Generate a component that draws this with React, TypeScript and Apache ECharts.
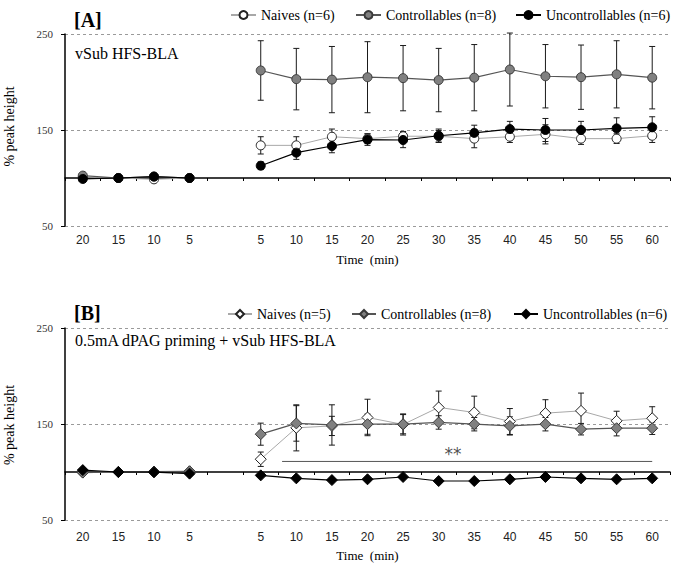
import React, { useEffect, useRef } from 'react';
import * as echarts from 'echarts';

// ---------- data ----------
const categories = ['20', '15', '10', '5', '', '5', '10', '15', '20', '25', '30', '35', '40', '45', '50', '55', '60'];
const yMin = 50;
const yMax = 250;
const yStep = 100;

// Panel A
const namesA = ['Naives (n=6)', 'Controllables (n=8)', 'Uncontrollables (n=6)'];
const naivesA = [101, 100, 98.6, 100, null, 134, 134, 143, 141, 143.5, 143.5, 141, 143, 145.5, 141, 141, 144];
const naivesAErr = [0, 0, 0, 0, null, 9, 9, 8, 5, 5, 6, 9.5, 6, 10, 6, 5, 7];
const ctrlA = [102.5, 100, 101.5, 100, null, 212, 203, 202.5, 205, 204, 202, 204.5, 213, 206, 205, 208, 204.5];
const ctrlAErr = [0, 0, 0, 0, null, 31, 32, 34.5, 37, 34, 33, 34.5, 38, 33, 33.5, 35, 32.5];
const uncA = [99, 100, 101.5, 100, null, 112.8, 126.4, 133.3, 140, 139.6, 144, 147, 151, 150, 150, 151.7, 152.8];
const uncAErr = [0, 0, 0, 0, null, 4, 7, 7, 6, 8, 7, 8, 8, 12, 9, 11, 11];

// Panel B
const namesB = ['Naives (n=5)', 'Controllables (n=8)', 'Uncontrollables (n=6)'];
const naivesB = [99.4, 100, 100, 100.7, null, 113.3, 146, 148, 156.8, 149.5, 167.3, 162, 152.6, 161.3, 163.7, 153.3, 156];
const naivesBErr = [0, 0, 0, 0, null, 7.5, 24, 10, 19, 11, 17, 17, 13.5, 14, 18.5, 10, 12];
const ctrlB = [99.4, 100, 100.5, 100.7, null, 139.4, 150.6, 149, 149.8, 149.8, 151.6, 149.8, 148, 149.8, 144.6, 145.6, 145.6];
const ctrlBErr = [0, 0, 0, 0, null, 11.5, 18.5, 21, 10.5, 10, 7, 7, 9.5, 7, 6, 8, 6.5];
const uncB = [102, 100, 99.8, 98.3, null, 96.5, 93.4, 91.6, 92.4, 94.8, 90.6, 90.6, 92.4, 94.8, 93.4, 92.4, 93.4];
const uncBErr = [0, 0, 0, 0, null, 0, 0, 0, 0, 0, 0, 0, 0, 0, 0, 0, 0];

// significance bar (panel B), x in category-index units
const sigFrom = 5.6;
const sigTo = 16;
const sigLevel = 111;
const sigLabelAt = 10.4;
const sigText = '**';

const baseline = 100;

// ---------- styles ----------
const SERIF = 'Liberation Serif';
const SANS = 'Liberation Sans';

const groupStyles = [
  { fill: '#ffffff', border: '#222222', line: '#a8a8a8', lineWidth: 1 },
  { fill: '#808080', border: '#3a3a3a', line: '#555555', lineWidth: 1.2 },
  { fill: '#000000', border: '#000000', line: '#000000', lineWidth: 1.2 },
];

type PanelCfg = {
  top: number;
  height: number;
  gridTop: number;
  letter: string;
  letterY: number;
  subtitle: string;
  subtitleY: number;
  legendY: number;
  legendLefts: number[];
  legendItemWidth: number;
  yNameY: number;
  labelMargin: number;
  nameGap: number;
  names: string[];
  values: (number | null)[][];
  errs: (number | null)[][];
  symbol: string;
  symbolSize: number;
  sig: boolean;
};

const GRID_H = 192;

const panels: PanelCfg[] = [
  {
    top: 0, height: 282, gridTop: 34,
    letter: '[A]', letterY: 19.5,
    subtitle: 'vSub HFS-BLA', subtitleY: 53,
    legendY: 15, legendLefts: [230, 355, 515], legendItemWidth: 25,
    yNameY: 126.5, labelMargin: 8, nameGap: 27,
    names: namesA, values: [naivesA, ctrlA, uncA], errs: [naivesAErr, ctrlAErr, uncAErr],
    symbol: 'circle', symbolSize: 9, sig: false,
  },
  {
    top: 282, height: 283, gridTop: 46,
    letter: '[B]', letterY: 30.5,
    subtitle: '0.5mA dPAG priming + vSub HFS-BLA', subtitleY: 58,
    legendY: 32, legendLefts: [227, 351, 513], legendItemWidth: 24,
    yNameY: 143, labelMargin: 10.5, nameGap: 28.5,
    names: namesB, values: [naivesB, ctrlB, uncB], errs: [naivesBErr, ctrlBErr, uncBErr],
    symbol: 'diamond', symbolSize: 11, sig: true,
  },
];

function errorSeries(values: (number | null)[], errs: (number | null)[]) {
  const data: number[][] = [];
  values.forEach((v, i) => {
    const e = errs[i];
    if (v != null && e) data.push([i, v - e, v + e]);
  });
  return {
    type: 'custom',
    xAxisIndex: 0,
    yAxisIndex: 0,
    silent: true,
    z: 1,
    data,
    encode: { x: 0, y: [1, 2] },
    renderItem: (_params: any, api: any) => {
      const x = api.value(0);
      const lo = api.coord([x, api.value(1)]);
      const hi = api.coord([x, api.value(2)]);
      const w = 3;
      const style = { stroke: '#1a1a1a', lineWidth: 1 };
      return {
        type: 'group',
        children: [
          { type: 'line', shape: { x1: lo[0], y1: lo[1], x2: hi[0], y2: hi[1] }, style },
          { type: 'line', shape: { x1: lo[0] - w, y1: lo[1], x2: lo[0] + w, y2: lo[1] }, style },
          { type: 'line', shape: { x1: hi[0] - w, y1: hi[1], x2: hi[0] + w, y2: hi[1] }, style },
        ],
      };
    },
  };
}

function buildOption(p: PanelCfg) {
  const axisOffset = -GRID_H * (baseline - yMin) / (yMax - yMin);
  const series: any[] = [];
  p.values.forEach((vals, k) => series.push(errorSeries(vals, p.errs[k])));
  p.values.forEach((vals, k) => {
    const s = groupStyles[k];
    series.push({
      name: p.names[k],
      type: 'line',
      xAxisIndex: 0,
      yAxisIndex: 0,
      data: vals,
      connectNulls: false,
      symbol: p.symbol,
      symbolSize: p.symbolSize,
      showAllSymbol: true,
      z: 3 + k,
      lineStyle: { color: s.line, width: s.lineWidth },
      itemStyle: { color: s.fill, borderColor: s.border, borderWidth: 1 },
      emphasis: { disabled: true },
    });
  });
  if (p.sig) {
    series.push({
      type: 'line',
      xAxisIndex: 2,
      yAxisIndex: 0,
      data: [[sigFrom, sigLevel], [sigTo, sigLevel]],
      symbol: 'none',
      silent: true,
      z: 2,
      lineStyle: { color: '#555555', width: 1 },
    });
    series.push({
      type: 'scatter',
      xAxisIndex: 2,
      yAxisIndex: 0,
      data: [[sigLabelAt, sigLevel]],
      symbolSize: 0,
      silent: true,
      label: {
        show: true,
        position: 'top',
        distance: -1,
        formatter: sigText,
        fontFamily: 'DejaVu Sans',
        fontSize: 17,
        color: '#222222',
      },
    });
  }

  const legends = p.names.map((n, k) => ({
    data: [n],
    left: p.legendLefts[k],
    top: p.legendY - 7,
    padding: 0,
    itemWidth: p.legendItemWidth,
    itemHeight: 10,
    itemGap: 0,
    selectedMode: false,
    textStyle: { fontFamily: SERIF, fontSize: 14, color: '#000000' },
  }));

  return {
    animation: false,
    backgroundColor: '#ffffff',
    grid: {
      left: 65,
      right: 5,
      top: p.gridTop,
      height: GRID_H,
      outerBoundsMode: 'none',
      containLabel: false,
    },
    legend: legends,
    xAxis: [
      {
        type: 'category',
        data: categories,
        boundaryGap: true,
        position: 'bottom',
        offset: axisOffset,
        axisLine: { show: true, onZero: false, lineStyle: { color: '#000000', width: 1.5 } },
        axisTick: { show: true, length: 3, inside: false, lineStyle: { color: '#000000', width: 1 } },
        axisLabel: { show: false },
        splitLine: { show: false },
      },
      {
        type: 'category',
        data: categories,
        boundaryGap: true,
        position: 'bottom',
        axisLine: { show: false, onZero: false },
        axisTick: { show: false },
        axisLabel: {
          show: true,
          interval: 0,
          margin: p.labelMargin,
          fontFamily: SANS,
          fontSize: 12,
          color: '#222222',
        },
        splitLine: { show: false },
        name: 'Time  (min)',
        nameLocation: 'middle',
        nameGap: p.nameGap,
        nameTextStyle: { fontFamily: SERIF, fontSize: 13, fontWeight: 'normal', color: '#000000' },
      },
      {
        type: 'value',
        min: -0.5,
        max: categories.length - 0.5,
        show: false,
        axisLine: { onZero: false },
      },
    ],
    yAxis: {
      type: 'value',
      min: yMin,
      max: yMax,
      interval: yStep,
      axisLine: { show: true, onZero: false, lineStyle: { color: '#000000', width: 1.5 } },
      axisTick: { show: true, length: 4, lineStyle: { color: '#000000', width: 1 } },
      axisLabel: { margin: 12, fontFamily: SERIF, fontSize: 11, color: '#333333' },
      splitLine: { show: true, lineStyle: { color: '#9a9a9a', type: [3, 3], width: 1 } },
    },
    graphic: [
      {
        type: 'text',
        x: 74,
        y: p.letterY,
        silent: true,
        style: {
          text: p.letter,
          fontFamily: SERIF,
          fontSize: 20,
          fontWeight: 'bold',
          fill: '#000000',
          align: 'left',
          verticalAlign: 'middle',
          textAlign: 'left',
          textVerticalAlign: 'middle',
        },
      },
      {
        type: 'text',
        x: 75,
        y: p.subtitleY,
        silent: true,
        style: {
          text: p.subtitle,
          fontFamily: SERIF,
          fontSize: 16,
          fill: '#000000',
          align: 'left',
          verticalAlign: 'middle',
          textAlign: 'left',
          textVerticalAlign: 'middle',
        },
      },
      {
        type: 'text',
        x: 9,
        y: p.yNameY,
        rotation: Math.PI / 2,
        silent: true,
        style: {
          text: '% peak height',
          fontFamily: SERIF,
          fontSize: 14,
          fill: '#000000',
          align: 'center',
          verticalAlign: 'middle',
          textAlign: 'center',
          textVerticalAlign: 'middle',
        },
      },
    ],
    series,
  };
}

function Panel({ cfg }: { cfg: PanelCfg }) {
  const ref = useRef<HTMLDivElement>(null);
  useEffect(() => {
    if (!ref.current) return;
    const chart = echarts.init(ref.current, null, { renderer: 'svg' });
    chart.setOption(buildOption(cfg) as any);
    return () => {
      chart.dispose();
    };
  }, [cfg]);
  return (
    <div
      ref={ref}
      style={{ position: 'absolute', left: 0, top: cfg.top, width: 675, height: cfg.height }}
    />
  );
}

export default function App() {
  return (
    <div>
      {panels.map((p) => (
        <Panel key={p.letter} cfg={p} />
      ))}
    </div>
  );
}
